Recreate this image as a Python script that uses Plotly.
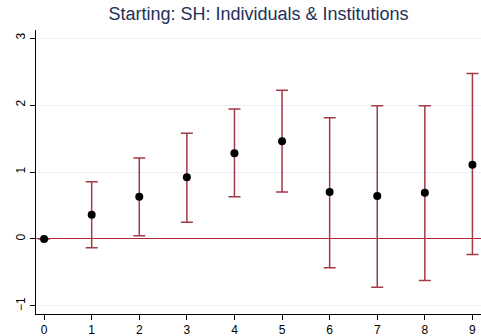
import plotly.graph_objects as go

periods = [0, 1, 2, 3, 4, 5, 6, 7, 8, 9]
estimates = [0.0, 0.36, 0.63, 0.92, 1.28, 1.46, 0.70, 0.64, 0.69, 1.11]
ci_upper = [0.0, 0.855, 1.21, 1.58, 1.94, 2.22, 1.81, 1.99, 1.99, 2.47]
ci_lower = [0.0, -0.13, 0.05, 0.25, 0.63, 0.70, -0.43, -0.72, -0.62, -0.23]
x_ticks = [0, 1, 2, 3, 4, 5, 6, 7, 8, 9]
y_ticks = [-1, 0, 1, 2, 3]

err_plus = [u - e for u, e in zip(ci_upper, estimates)]
err_minus = [e - l for e, l in zip(estimates, ci_lower)]

font_family = "Liberation Sans, Arial, sans-serif"

fig = go.Figure()
fig.add_trace(go.Scatter(
    x=periods, y=estimates, mode="markers",
    marker=dict(color="black", size=8),
    error_y=dict(type="data", symmetric=False, array=err_plus, arrayminus=err_minus,
                 color="#a23a48", thickness=1.5, width=6),
    showlegend=False,
))

fig.update_layout(
    width=481, height=336,
    margin=dict(l=36, r=0, t=30, b=22),
    paper_bgcolor="white", plot_bgcolor="white",
    title=dict(text="Starting: SH: Individuals & Institutions",
               font=dict(family=font_family, size=18, color="#22305a"),
               x=0.5, xref="paper", xanchor="center", y=1, yref="container", yanchor="top", pad=dict(t=7)),
    xaxis=dict(range=[-0.17, 9.18], tickvals=x_ticks, ticks="outside", ticklen=5,
               tickcolor="black", showline=True, linecolor="black", linewidth=1,
               showgrid=False, zeroline=False,
               tickfont=dict(family=font_family, size=12, color="black")),
    yaxis=dict(range=[-1.12, 3.12], tickvals=y_ticks, ticks="outside", ticklen=5,
               tickcolor="black", showline=True, linecolor="black", linewidth=1,
               showgrid=True, gridcolor="#eaf0f3", gridwidth=1,
               zeroline=True, zerolinecolor="#b3243f", zerolinewidth=1.2,
               tickangle=-90,
               tickfont=dict(family=font_family, size=12, color="black")),
)

fig.write_html("out.html", config={"displayModeBar": False},
               post_script="document.body.style.margin='0';document.body.style.padding='0';document.body.style.overflow='hidden';")
